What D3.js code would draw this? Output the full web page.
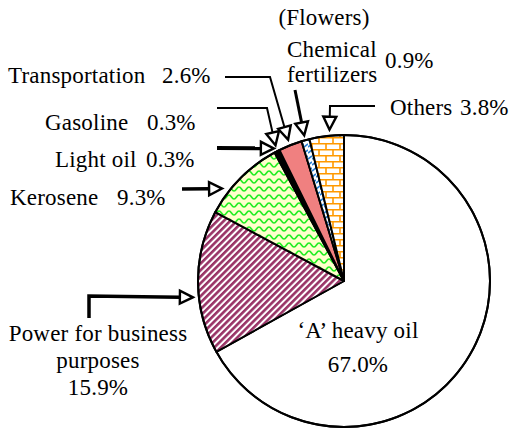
<!DOCTYPE html>
<meta charset="utf-8">
<script src="https://d3js.org/d3.v7.min.js"></script>
<style>
body { margin: 0; background: #fff; }
</style>
<body>
<script>
// data, clockwise from 12 o'clock
var categories = ["A heavy oil", "Power", "Kerosene", "Light oil", "Gasoline", "Transportation", "Chemical fertilizers", "Others"];
var shares = [67.0, 15.9, 9.3, 0.3, 0.3, 2.6, 0.9, 3.8];
var labelLines = [
  ["\u2018A\u2019 heavy oil"],
  ["Power for business", "purposes"],
  ["Kerosene"],
  ["Light oil"],
  ["Gasoline"],
  ["Transportation"],
  ["(Flowers)", "Chemical", "fertilizers"],
  ["Others"]
];

var width = 518, height = 429;
var cx = 344, cy = 281, r = 146;

var svg = d3.select("body").append("svg")
  .attr("width", width)
  .attr("height", height);

// fill patterns
var defs = svg.append("defs");

var pStripe = defs.append("pattern").attr("id", "stripe")
  .attr("patternUnits", "userSpaceOnUse").attr("width", 4.6).attr("height", 4.6)
  .attr("patternTransform", "rotate(45)");
pStripe.append("rect").attr("width", 4.6).attr("height", 4.6).attr("fill", "#fff");
pStripe.append("rect").attr("width", 2.6).attr("height", 4.6).attr("fill", "#993366");

var pWave = defs.append("pattern").attr("id", "wave")
  .attr("patternUnits", "userSpaceOnUse").attr("width", 10).attr("height", 8);
pWave.append("rect").attr("width", 10).attr("height", 8).attr("fill", "#ffffcc");
pWave.append("path").attr("d", "M0,6 C2.5,6 2.5,2 5,2 C7.5,2 7.5,6 10,6")
  .attr("fill", "none").attr("stroke", "#22ee22").attr("stroke-width", 1.6);

var pDash = defs.append("pattern").attr("id", "dash")
  .attr("patternUnits", "userSpaceOnUse").attr("width", 4).attr("height", 6);
pDash.append("rect").attr("width", 4).attr("height", 6).attr("fill", "#fff");
pDash.append("path").attr("d", "M0,4 L4,1").attr("stroke", "#2a7fd4").attr("stroke-width", 1.6);

var pBrick = defs.append("pattern").attr("id", "brick")
  .attr("patternUnits", "userSpaceOnUse").attr("width", 14).attr("height", 12);
pBrick.append("rect").attr("width", 14).attr("height", 12).attr("fill", "#fff");
pBrick.append("path").attr("d", "M0,0.75 H14 M0,6.75 H14 M3,0 V6 M10,6 V12")
  .attr("stroke", "#ff9900").attr("stroke-width", 1.6).attr("fill", "none");

var fills = ["#ffffff", "url(#stripe)", "url(#wave)", "#000", "#000", "#f08080", "url(#dash)", "url(#brick)"];

var pie = d3.pie().sort(null).value(function(d) { return d; });
var arcs = pie(shares);
var arc = d3.arc().innerRadius(0).outerRadius(r);

var g = svg.append("g").attr("transform", "translate(" + cx + "," + cy + ")");

g.selectAll(".slice")
  .data(arcs)
  .enter().append("path")
  .attr("class", "slice")
  .attr("d", arc)
  .attr("fill", function(d, i) { return fills[i]; })
  .attr("stroke", "#000")
  .attr("stroke-width", 2)
  .attr("stroke-linejoin", "round");

g.append("circle").attr("r", r).attr("fill", "none").attr("stroke", "#000").attr("stroke-width", 2);

// label layout: text positions, leader points, where the arrow hits (fraction of slice, radius)
var layout = [
  {anchor: "middle", x: 358, y: [338, 372], pct: "below"},
  {anchor: "middle", x: 98, y: [341, 368, 395], pct: "below", lead: [[89, 318], [89, 296]], t: 0.4, R: 152, w: 3.5},
  {anchor: "start", x: 10, y: [205], px: 117, lead: [[182, 189]], t: 0.27, R: 153, w: 3.5},
  {anchor: "start", x: 55, y: [167], px: 146, lead: [[217, 148]], t: 0.5, R: 150, w: 4},
  {anchor: "start", x: 45, y: [130], px: 147, lead: [[217, 108], [267, 108]], t: 0.5, R: 152, w: 2},
  {anchor: "start", x: 8, y: [83], px: 162, lead: [[225, 77], [270, 77]], t: 0.5, R: 152, w: 2},
  {anchor: "start", x: 287, y: [25, 57, 82], xs: [324, 287, 287], anchors: ["middle", "start", "start"], px: 385, py: 68, lead: [[295, 90]], t: 0.5, R: 151, w: 3},
  {anchor: "start", x: 390, y: [115], px: 460, lead: [[375, 106], [330, 106]], t: 0.6, R: 152, w: 2}
];

function pct(v) { return d3.format(".1f")(v) + "%"; }

var labels = svg.append("g");

function addText(x, y, anchor, s) {
  labels.append("text")
    .attr("x", x)
    .attr("y", y)
    .attr("text-anchor", anchor)
    .style("font-family", "'Liberation Serif'")
    .style("font-size", "23px")
    .style("letter-spacing", "0.2px")
    .text(s);
}

arcs.forEach(function(a, i) {
  var L = layout[i];
  var lines = labelLines[i];
  lines.forEach(function(s, j) {
    addText(L.xs ? L.xs[j] : L.x, L.y[j], L.anchors ? L.anchors[j] : L.anchor, s);
  });
  if (L.pct === "below") addText(L.x, L.y[lines.length], "middle", pct(shares[i]));
  else addText(L.px, L.py || L.y[0], "start", pct(shares[i]));

  if (!L.lead) return;
  var ang = a.startAngle + L.t * (a.endAngle - a.startAngle);
  var tip = [cx + L.R * Math.sin(ang), cy - L.R * Math.cos(ang)];
  var last = L.lead[L.lead.length - 1];
  var dx = tip[0] - last[0], dy = tip[1] - last[1];
  var len = Math.sqrt(dx * dx + dy * dy), ux = dx / len, uy = dy / len;
  var hl = 13, hw = 6.5;
  var base = [tip[0] - ux * hl, tip[1] - uy * hl];
  var pts = L.lead.concat([base]);
  labels.append("path")
    .attr("d", d3.line()(pts))
    .attr("fill", "none").attr("stroke", "#000")
    .attr("stroke-width", L.w);
  labels.append("path")
    .attr("d", d3.line()([tip, [base[0] - uy * hw, base[1] + ux * hw], [base[0] + uy * hw, base[1] - ux * hw]]) + "Z")
    .attr("fill", "#fff").attr("stroke", "#000").attr("stroke-width", 2.4)
    .attr("stroke-linejoin", "miter");
});
</script>
</body>
